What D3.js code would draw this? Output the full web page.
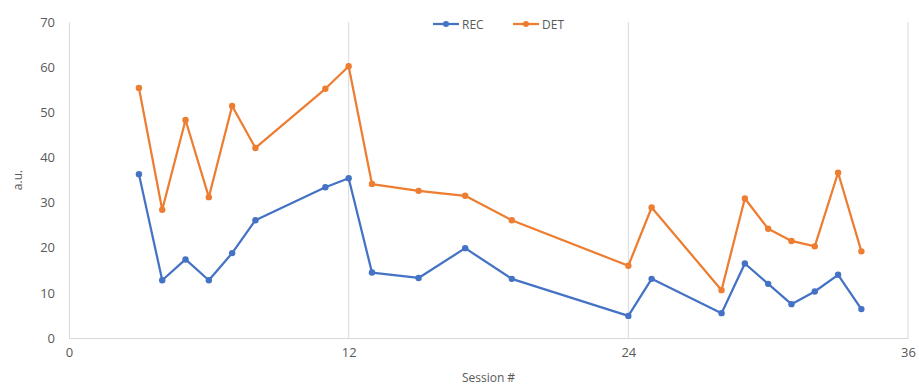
<!DOCTYPE html>
<html>
<head>
<meta charset="utf-8">
<script src="https://cdn.jsdelivr.net/npm/d3@7"></script>
<style>
  html, body { margin: 0; padding: 0; background: #fff; }
  svg { display: block; }
  text { font-family: "Open Sans", "Noto Sans", sans-serif; fill: #595959; }
</style>
</head>
<body>
<svg id="chart" width="919" height="385"></svg>
<script>
// Session numbers and measured values
const sessions = [3, 4, 5, 6, 7, 8, 11, 12, 13, 15, 17, 19, 24, 25, 28, 29, 30, 31, 32, 33, 34];
const recValues = [36.3, 12.8, 17.4, 12.8, 18.8, 26.1, 33.4, 35.4, 14.5, 13.3, 19.9, 13.1, 4.9, 13.1, 5.5, 16.5, 12.0, 7.5, 10.3, 14.0, 6.4];
const detValues = [55.4, 28.4, 48.3, 31.2, 51.4, 42.1, 55.2, 60.2, 34.1, 32.6, 31.5, 26.1, 16.0, 28.9, 10.6, 30.9, 24.2, 21.5, 20.3, 36.6, 19.2];
const seriesNames = ["REC", "DET"];
const seriesColors = ["#4472C4", "#ED7D31"];
const xTicks = [0, 12, 24, 36];
const yTicks = [0, 10, 20, 30, 40, 50, 60, 70];

const svg = d3.select("#chart");
const margin = { left: 69, right: 11, top: 22, bottom: 47 };
const W = 919, H = 385;

const x = d3.scaleLinear().domain([0, 36]).range([margin.left, W - margin.right]);
const y = d3.scaleLinear().domain([0, 70]).range([H - margin.bottom, margin.top]);

// Vertical gridlines
svg.append("g")
  .selectAll("line")
  .data(xTicks.filter(d => d > 0))
  .join("line")
  .attr("x1", d => x(d)).attr("x2", d => x(d))
  .attr("y1", y(70)).attr("y2", y(0))
  .attr("stroke", "#d9d9d9").attr("stroke-width", 1);

// Axes
const xAxis = svg.append("g")
  .attr("transform", `translate(0,${y(0)})`)
  .call(d3.axisBottom(x).tickValues(xTicks).tickSize(0).tickPadding(10));
xAxis.select(".domain").attr("stroke", "#d9d9d9");
xAxis.selectAll("text").style("font-size", "13px").attr("fill", "#595959");

const yAxis = svg.append("g")
  .attr("transform", `translate(${x(0)},0)`)
  .call(d3.axisLeft(y).tickValues(yTicks).tickSize(0).tickPadding(14));
yAxis.select(".domain").attr("stroke", "#d9d9d9");
yAxis.selectAll("text").style("font-size", "13px").attr("fill", "#595959");

// Axis titles
svg.append("text")
  .attr("x", (x(0) + x(36)) / 2).attr("y", 382)
  .attr("text-anchor", "middle")
  .style("font-size", "12px")
  .text("Session #");

svg.append("text")
  .attr("transform", `translate(22,${(y(0) + y(70)) / 2}) rotate(-90)`)
  .attr("text-anchor", "middle")
  .style("font-size", "12px")
  .text("a.u.");

// Series lines and markers
const seriesData = [recValues, detValues];
const line = d3.line().x(d => x(d[0])).y(d => y(d[1]));

seriesData.forEach((vals, i) => {
  const pts = sessions.map((s, j) => [s, vals[j]]);
  svg.append("path")
    .datum(pts)
    .attr("d", line)
    .attr("fill", "none")
    .attr("stroke", seriesColors[i])
    .attr("stroke-width", 2.25)
    .attr("stroke-linejoin", "round");
  svg.append("g")
    .selectAll("circle")
    .data(pts)
    .join("circle")
    .attr("cx", d => x(d[0]))
    .attr("cy", d => y(d[1]))
    .attr("r", 3.2)
    .attr("fill", seriesColors[i]);
});

// Legend
const legendX = [433, 513];
const legend = svg.append("g");
seriesNames.forEach((name, i) => {
  const g = legend.append("g").attr("transform", `translate(${legendX[i]},24)`);
  g.append("line").attr("x1", 0).attr("x2", 26).attr("y1", 0).attr("y2", 0)
    .attr("stroke", seriesColors[i]).attr("stroke-width", 2.25);
  g.append("circle").attr("cx", 13).attr("cy", 0).attr("r", 3).attr("fill", seriesColors[i]);
  g.append("text").attr("x", 29).attr("y", 4.5).style("font-size", "12px").text(name);
});
</script>
</body>
</html>
